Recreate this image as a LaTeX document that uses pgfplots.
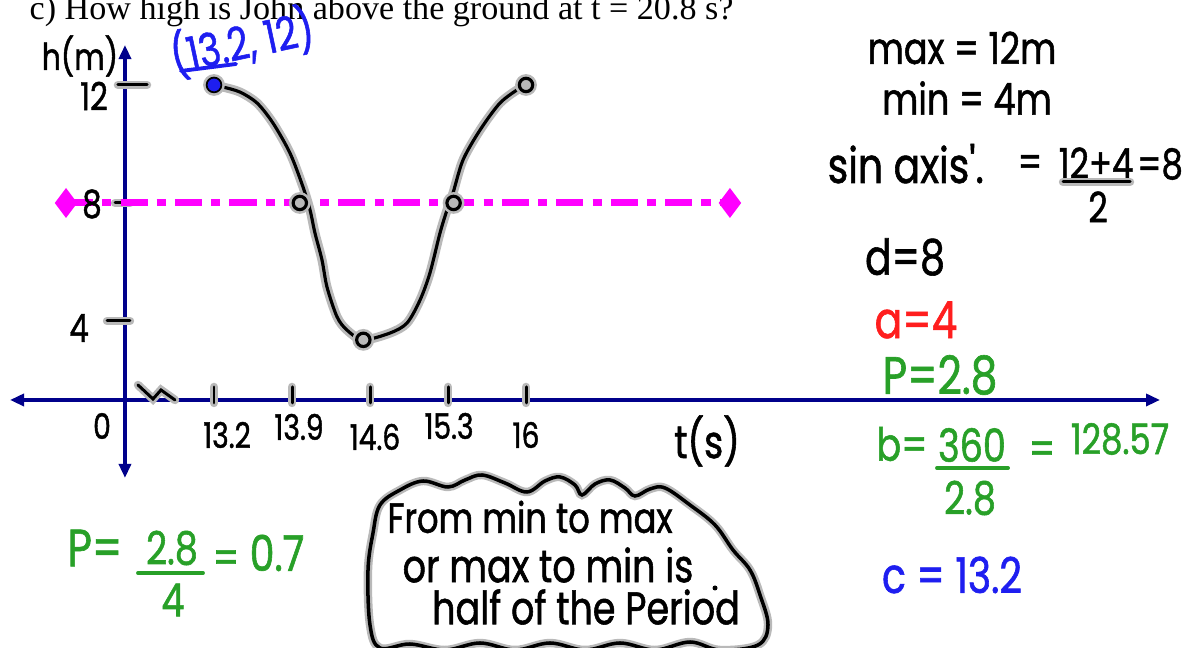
\documentclass[border=0pt]{standalone}
\usepackage{fontspec}
\setmainfont{Liberation Serif}
\newfontfamily\hand[FakeStretch=0.8, FakeBold=1.2]{Poppins}
\usepackage{pgfplots}
\pgfplotsset{compat=1.18}
\usetikzlibrary{arrows.meta}

\definecolor{axisblue}{RGB}{0,0,139}
\definecolor{midmag}{RGB}{255,0,255}
\definecolor{inkgreen}{RGB}{40,160,40}
\definecolor{inkred}{RGB}{255,30,30}
\definecolor{inkblue}{RGB}{30,30,240}
\newcommand{\hw}[1]{\hand\fontsize{#1}{#1}\selectfont}

\tikzset{
  ink/.style={draw=black, line width=0.85pt, line cap=round,
    preaction={draw=gray!55, line width=2.4pt, line cap=round}},
  axisarrow/.style={axisblue, line width=1.2pt,
    {Triangle[length=4pt, width=3.4pt]}-{Triangle[length=4pt, width=3.4pt]}},
}

% sketched curve h(t)
\pgfplotstableread{
t      h
13.200 12.00
13.281 11.93
13.433 11.76
13.586 11.39
13.729 10.71
13.882 9.69
13.999 8.54
14.062 7.76
14.106 6.98
14.169 6.07
14.214 5.15
14.304 4.14
14.394 3.69
14.537 3.36
14.779 3.59
14.932 3.93
15.049 4.71
15.138 5.63
15.228 6.98
15.291 7.76
15.345 8.34
15.435 9.46
15.587 10.47
15.767 11.39
15.946 11.90
16.000 12.00
}\curve

\begin{document}
\begin{tikzpicture}
\begin{axis}[
  hide axis, scale only axis,
  width=119.5mm, height=64.8mm,
  xmin=11.2795, xmax=22.0037, ymin=-7.085, ymax=14.881,
  clip=false,
]
  \coordinate (bl) at (rel axis cs:0,0);
  \coordinate (tr) at (rel axis cs:1,1);
  \coordinate (tl) at (rel axis cs:0,1);

  % axes (broken: t axis drawn at h = 1.32)
  \draw[axisarrow] (axis cs:11.369,1.322) -- (axis cs:21.690,1.322);
  \draw[axisarrow] (axis cs:12.401,-1.322) -- (axis cs:12.401,13.356);

  % ticks
  \pgfplotsinvokeforeach{13.2,13.9,14.6,15.3,16}{
    \draw[ink] (axis cs:#1,1.763) -- (axis cs:#1,1.220);
  }
  \draw[ink] (axis cs:12.338,12) -- (axis cs:12.599,12);
  \draw[ink] (axis cs:12.312,8) -- (axis cs:12.446,8);
  \draw[ink] (axis cs:12.240,4) -- (axis cs:12.446,4);

  % sinusoidal axis h = 8
  \addplot[midmag, line width=2pt,
    dash pattern=on 7.7pt off 2.6pt on 2.6pt off 2.6pt,
    mark=diamond*, mark size=2.6pt, mark options={solid}]
    coordinates {(11.872,8) (17.83,8)};

  % curve
  \addplot[gray!55, line width=2.6pt, smooth, tension=0.5] table[x=t, y=h] {\curve};
  \addplot[black, line width=0.9pt, smooth, tension=0.5] table[x=t, y=h] {\curve};

  % key points
  \addplot[only marks, mark=*, mark size=2.9pt, gray!55]
    coordinates {(13.2,12) (13.97,8) (14.54,3.36) (15.35,8) (16.0,12)};
  \addplot[only marks, mark=o, mark size=1.9pt, line width=0.9pt, black]
    coordinates {(13.97,8) (14.54,3.36) (15.35,8) (16.0,12)};
  \addplot[only marks, mark=*, mark size=2.1pt, inkblue, mark options={draw=black, line width=0.5pt}]
    coordinates {(13.2,12)};
\end{axis}

\begin{scope}[shift={(tl)}, x=0.1mm, y=-0.1mm]
  % question line, cut by the top edge
  \node[anchor=base west, inner sep=0pt, font=\fontsize{9.7pt}{11pt}\selectfont] at (29,20)
    {c) How high is John above the ground at t = 20.8 s?};

  % axis labels
  \node[font=\hw{10.5pt}] at (80,56) {h(m)};
  \node[font=\hw{11pt}] at (94,96) {12};
  \node[font=\hw{11pt}] at (92,204) {8};
  \node[font=\hw{11pt}] at (79,328) {4};
  \node[font=\hw{10pt}] at (102,426) {0};
  \node[font=\hw{10pt}] at (227,435) {13.2};
  \node[font=\hw{10pt}] at (299,427) {13.9};
  \node[font=\hw{10pt}] at (375,437) {14.6};
  \node[font=\hw{10pt}] at (449,426) {15.3};
  \node[font=\hw{10pt}] at (526,435) {16};
  \node[font=\hw{13pt}] at (707,441) {t(s)};
  \draw[ink] (138,385) -- (153,399) -- (161,390) -- (175,400);

  % point label
  \node[font=\hw{13pt}, text=inkblue, rotate=12] at (242,42) {(13.2, 12)};
  \draw[inkblue, line width=1.1pt, line cap=round] (181,71) -- (236,64);

  % working on the right
  \node[font=\hw{12.5pt}] at (962,48) {max = 12m};
  \node[font=\hw{12.5pt}] at (967,98) {min = 4m};
  \node[font=\hw{14pt}, anchor=base west, inner sep=0pt] at (827,183) {sin axis'.};
  \node[font=\hw{12pt}] at (1030,166) {=};
  \node[font=\hw{12pt}] at (1096,163) {12+4};
  \draw[ink] (1063,182) -- (1130,182);
  \node[font=\hw{12pt}] at (1098,207) {2};
  \node[font=\hw{12pt}] at (1160,164) {=8};
  \node[font=\hw{14pt}] at (905,257) {d=8};
  \node[font=\hw{14.5pt}, text=inkred] at (916,320) {a=4};
  \node[font=\hw{15pt}, text=inkgreen] at (940,375) {P=2.8};
  \node[font=\hw{13pt}, text=inkgreen] at (902,444) {b=};
  \node[font=\hw{13pt}, text=inkgreen] at (972,445) {360};
  \draw[inkgreen, line width=1.1pt, line cap=round] (937,468) -- (1008,468);
  \node[font=\hw{13pt}, text=inkgreen] at (970,498) {2.8};
  \node[font=\hw{13pt}, text=inkgreen] at (1042,453) {=};
  \node[font=\hw{12pt}, text=inkgreen] at (1120,439) {128.57};
  \node[font=\hw{14pt}, text=inkblue] at (952,575) {c = 13.2};

  % working on the left
  \node[font=\hw{15pt}, text=inkgreen] at (95,548) {P=};
  \node[font=\hw{13pt}, text=inkgreen] at (172,548) {2.8};
  \draw[inkgreen, line width=1.1pt, line cap=round] (138,573) -- (203,573);
  \node[font=\hw{13pt}, text=inkgreen] at (173,600) {4};
  \node[font=\hw{13pt}, text=inkgreen] at (226,562) {=};
  \node[font=\hw{14pt}, text=inkgreen] at (277,553) {0.7};

  % cloud note
  \draw[ink, line width=1pt] plot[smooth cycle, tension=0.6] coordinates {
    (370,625) (368,570) (373,533) (380,505) (400,490) (423,481)
    (448,487) (465,480) (482,475) (505,483) (527,492) (545,481) (560,477)
    (575,485) (582,495) (595,484) (610,480) (625,488) (635,496) (650,489)
    (665,488) (690,505) (715,525) (733,550) (750,570) (760,595) (768,625)
    (758,645) (720,650) (690,642) (655,650) (620,643) (585,650) (550,643)
    (515,650) (480,643) (445,650) (410,644) (380,648)};
  \node[font=\hw{12pt}] at (530,517) {From min to max};
  \node[font=\hw{13pt}] at (548,565) {or max to min is};
  \node[font=\hw{13pt}] at (586,607) {half of the Period};
  \fill (715,588) circle (2.5);
\end{scope}

\pgfresetboundingbox
\useasboundingbox (bl) rectangle (tr);
\end{tikzpicture}
\end{document}
